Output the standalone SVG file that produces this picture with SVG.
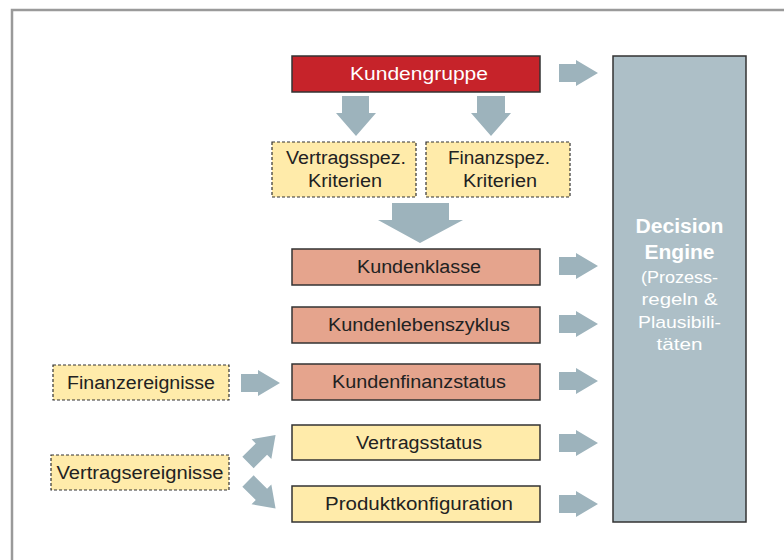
<svg xmlns="http://www.w3.org/2000/svg" xmlns:xlink="http://www.w3.org/1999/xlink" width="784" height="560" viewBox="0 0 784 560">
<style>
.box{stroke:#333;stroke-width:1.5}
.red{fill:#C6232A}
.sal{fill:#E5A48D}
.yel{fill:#FFEBAA}
.dash{fill:#FFEBAA;stroke:#333;stroke-width:1.2;stroke-dasharray:3 2}
.t{font-family:"Liberation Sans",Arial,sans-serif;font-size:18px;fill:#222;text-anchor:middle}
.w{fill:#fff}
.arr{fill:#9DB3BC}
.de{font-family:"Liberation Sans",Arial,sans-serif;fill:#fff;text-anchor:middle}
</style>
<defs>
<path id="ha" d="M0,-9 H17 V-13 L39,0 L17,13 V9 H0 Z"/>
<path id="da" d="M0,-8 H19 V-14 L39,0 L19,14 V8 H0 Z"/>
</defs>
<rect x="12" y="10" width="800" height="600" fill="#fff" stroke="#9a9a9a" stroke-width="2.5"/>
<g id="connectors" class="arr">
<use xlink:href="#ha" x="559" y="73"/>
<use xlink:href="#ha" x="559" y="266"/>
<use xlink:href="#ha" x="559" y="324"/>
<use xlink:href="#ha" x="559" y="381"/>
<use xlink:href="#ha" x="559" y="443"/>
<use xlink:href="#ha" x="559" y="504"/>
<use xlink:href="#ha" x="241" y="383"/>
<path d="M342,96 H369 V113 H376 L356,136 L336,113 H342 Z"/>
<path d="M477,96 H505 V113 H511 L491,136 L471,113 H477 Z"/>
<path d="M392,203 H449 V220 H463 L420,243 L378,220 H392 Z"/>
<use xlink:href="#da" transform="translate(248,462.5) rotate(-45)"/>
<use xlink:href="#da" transform="translate(248,481) rotate(45)"/>
</g>
<g id="kundengruppe"><rect class="box red" x="292" y="56" width="248" height="36"/><text class="t w" x="419" y="80" textLength="138" lengthAdjust="spacingAndGlyphs">Kundengruppe</text></g>
<g id="vertragsspez"><rect class="dash" x="272" y="142" width="144" height="55"/><text class="t" x="346" y="164" textLength="120" lengthAdjust="spacingAndGlyphs">Vertragsspez.</text><text class="t" x="345" y="187" textLength="74" lengthAdjust="spacingAndGlyphs">Kriterien</text></g>
<g id="finanzspez"><rect class="dash" x="426" y="142" width="144" height="55"/><text class="t" x="499" y="164" textLength="102" lengthAdjust="spacingAndGlyphs">Finanzspez.</text><text class="t" x="500" y="187" textLength="74" lengthAdjust="spacingAndGlyphs">Kriterien</text></g>
<g id="kundenklasse"><rect class="box sal" x="292" y="249" width="248" height="36"/><text class="t" x="419" y="273" textLength="124" lengthAdjust="spacingAndGlyphs">Kundenklasse</text></g>
<g id="kundenlebenszyklus"><rect class="box sal" x="292" y="307" width="248" height="36"/><text class="t" x="419" y="331" textLength="182" lengthAdjust="spacingAndGlyphs">Kundenlebenszyklus</text></g>
<g id="kundenfinanzstatus"><rect class="box sal" x="292" y="364" width="248" height="36"/><text class="t" x="419" y="388" textLength="174" lengthAdjust="spacingAndGlyphs">Kundenfinanzstatus</text></g>
<g id="vertragsstatus"><rect class="box yel" x="292" y="425" width="248" height="35"/><text class="t" x="419" y="449" textLength="126" lengthAdjust="spacingAndGlyphs">Vertragsstatus</text></g>
<g id="produktkonfiguration"><rect class="box yel" x="292" y="486" width="248" height="36"/><text class="t" x="419" y="510" textLength="188" lengthAdjust="spacingAndGlyphs">Produktkonfiguration</text></g>
<g id="finanzereignisse"><rect class="dash" x="53" y="365" width="176" height="35"/><text class="t" x="141" y="389" textLength="148" lengthAdjust="spacingAndGlyphs">Finanzereignisse</text></g>
<g id="vertragsereignisse"><rect class="dash" x="51" y="455" width="178" height="35"/><text class="t" x="140" y="479" textLength="167" lengthAdjust="spacingAndGlyphs">Vertragsereignisse</text></g>
<g id="decision-engine"><rect class="box" fill="#ADBFC7" x="613" y="56" width="133" height="466"/>
<text class="de" x="679.5" y="233" font-size="20" font-weight="bold" textLength="88" lengthAdjust="spacingAndGlyphs">Decision</text>
<text class="de" x="679.5" y="259" font-size="20" font-weight="bold" textLength="70" lengthAdjust="spacingAndGlyphs">Engine</text>
<text class="de" x="679.5" y="283" font-size="17" textLength="77" lengthAdjust="spacingAndGlyphs">(Prozess-</text>
<text class="de" x="679.5" y="305" font-size="17" textLength="76" lengthAdjust="spacingAndGlyphs">regeln &amp;</text>
<text class="de" x="679.5" y="328" font-size="17" textLength="83" lengthAdjust="spacingAndGlyphs">Plausibili-</text>
<text class="de" x="679.5" y="350" font-size="17" textLength="46" lengthAdjust="spacingAndGlyphs">täten</text>
</g>
</svg>
